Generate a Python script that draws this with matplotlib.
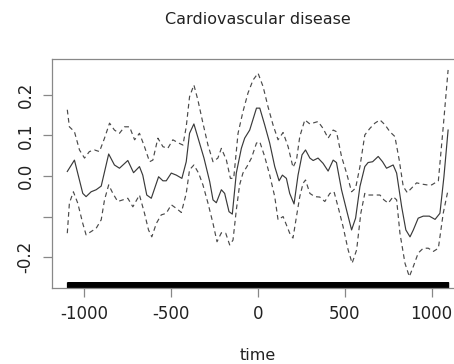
import numpy as np
import matplotlib
matplotlib.use("Agg")
import matplotlib.pyplot as plt

# smooth term s(time) for cardiovascular disease
fit_time = [-1095, -1054, -1006, -987, -958, -929, -900, -857, -824, -795, -747, -714,
            -680, -661, -638, -612, -570, -545, -526, -497, -468, -436, -411, -392,
            -367, -340, -309, -276, -257, -238, -209, -190, -165, -146, -123, -94,
            -75, -46, -7, 12, 40, 69, 98, 123, 142, 165, 184, 209, 232, 255, 275,
            300, 319, 347, 376, 405, 434, 453, 482, 511, 540, 563, 588, 616, 635,
            661, 693, 718, 741, 779, 799, 828, 852, 876, 895, 923, 952, 987, 1020,
            1048, 1071, 1095]
fit = [0.011, 0.039, -0.043, -0.051, -0.039, -0.034, -0.025, 0.054, 0.027, 0.019,
       0.038, 0.008, 0.023, 0.002, -0.047, -0.055, -0.002, -0.012, -0.012, 0.007,
       0.002, -0.006, 0.035, 0.105, 0.128, 0.089, 0.044, -0.014, -0.059, -0.066,
       -0.034, -0.043, -0.088, -0.094, 0.007, 0.068, 0.093, 0.113, 0.167, 0.167,
       0.126, 0.081, 0.023, -0.012, 0.002, -0.006, -0.043, -0.069, 0.002, 0.052,
       0.064, 0.044, 0.038, 0.044, 0.031, 0.012, 0.039, 0.033, -0.034, -0.084,
       -0.133, -0.104, -0.026, 0.023, 0.033, 0.035, 0.048, 0.035, 0.019, 0.027,
       0.007, -0.076, -0.133, -0.150, -0.133, -0.104, -0.099, -0.099, -0.107,
       -0.092, -0.002, 0.113]

upper_time = [-1095, -1083, -1054, -1025, -996, -968, -939, -910, -881, -852, -824,
              -795, -766, -737, -708, -680, -651, -622, -603, -574, -545, -517, -488,
              -459, -430, -411, -392, -367, -344, -315, -286, -257, -229, -209, -180,
              -157, -138, -113, -85, -56, -27, 2, 31, 59, 88, 117, 146, 175, 203, 223,
              242, 271, 300, 347, 376, 405, 434, 453, 482, 511, 540, 563, 588, 616,
              645, 674, 703, 732, 760, 789, 814, 837, 860, 885, 914, 943, 972, 1001,
              1039, 1067, 1095]
upper = [0.163, 0.121, 0.109, 0.064, 0.044, 0.060, 0.064, 0.060, 0.093, 0.130, 0.113,
         0.105, 0.121, 0.121, 0.089, 0.105, 0.072, 0.035, 0.039, 0.093, 0.072, 0.068,
         0.089, 0.082, 0.076, 0.121, 0.195, 0.224, 0.187, 0.130, 0.076, 0.035, 0.044,
         0.068, 0.039, -0.006, -0.006, 0.105, 0.158, 0.204, 0.236, 0.253, 0.220,
         0.171, 0.126, 0.089, 0.107, 0.072, 0.021, 0.039, 0.097, 0.138, 0.128, 0.134,
         0.117, 0.093, 0.113, 0.109, 0.048, 0.007, -0.039, -0.030, 0.023, 0.101,
         0.117, 0.130, 0.138, 0.126, 0.109, 0.097, 0.039, -0.026, -0.041, -0.030,
         -0.017, -0.020, -0.022, -0.022, -0.012, 0.121, 0.261]

lower_time = [-1095, -1083, -1060, -1035, -1006, -987, -958, -929, -900, -881, -857,
              -833, -805, -776, -747, -718, -680, -651, -628, -609, -583, -555, -526,
              -497, -468, -439, -411, -392, -367, -340, -315, -286, -257, -234, -209,
              -184, -161, -142, -123, -104, -85, -62, -36, -7, 12, 40, 69, 98, 117,
              146, 184, 203, 223, 242, 261, 275, 300, 328, 357, 386, 415, 439, 467,
              491, 520, 543, 569, 593, 616, 635, 674, 703, 726, 751, 779, 799, 818,
              847, 872, 895, 923, 952, 981, 1010, 1039, 1067, 1095]
lower = [-0.141, -0.067, -0.039, -0.067, -0.117, -0.145, -0.137, -0.129, -0.108,
         -0.059, -0.022, -0.043, -0.063, -0.059, -0.055, -0.076, -0.047, -0.092,
         -0.133, -0.150, -0.117, -0.096, -0.092, -0.071, -0.080, -0.090, -0.043,
         0.015, 0.027, 0.007, -0.022, -0.067, -0.117, -0.162, -0.140, -0.141, -0.170,
         -0.158, -0.084, -0.022, 0.007, 0.023, 0.044, 0.081, 0.084, 0.048, 0.002,
         -0.051, -0.108, -0.100, -0.141, -0.153, -0.100, -0.051, -0.018, -0.010,
         -0.043, -0.051, -0.052, -0.063, -0.043, -0.039, -0.084, -0.125, -0.182,
         -0.215, -0.182, -0.092, -0.043, -0.047, -0.047, -0.047, -0.059, -0.067,
         -0.051, -0.059, -0.141, -0.215, -0.248, -0.223, -0.190, -0.178, -0.178,
         -0.186, -0.178, -0.092, -0.034]

# daily observations (rug)
obs_time = np.arange(-1095, 1096)

x_ticks = [-1000, -500, 0, 500, 1000]
y_ticks = [-0.2, -0.1, 0.0, 0.1, 0.2]
y_labels = ["-0.2", "", "0.0", "0.1", "0.2"]

plt.rcParams["font.family"] = ["DejaVu Sans"]

fig = plt.figure(figsize=(4.54, 3.64), dpi=100)
ax = fig.add_axes([52 / 454, 76 / 364, 411.4 / 454, 229 / 364])

ax.plot(fit_time, fit, color="#3a3a3a", lw=0.85)
ax.plot(upper_time, upper, color="#4a4a4a", lw=0.85, ls=(0, (4, 3)))
ax.plot(lower_time, lower, color="#4a4a4a", lw=0.85, ls=(0, (4, 3)))
ax.vlines(obs_time, 0, 0.028, transform=ax.get_xaxis_transform(),
          color="black", lw=0.8)

ax.set_xlim(-1183, 1183)
ax.set_ylim(-0.276, 0.288)
ax.set_xticks(x_ticks)
ax.set_xticklabels([str(t) for t in x_ticks])
ax.set_yticks(y_ticks)
ax.set_yticklabels(y_labels, rotation=90, va="center")

for s in ax.spines.values():
    s.set_color("#888888")
    s.set_linewidth(0.9)
ax.tick_params(length=6.5, width=0.9, color="#888888", labelsize=12,
               labelcolor="#222222", pad=6)
ax.set_xlabel("time", fontsize=11.5, color="#222222", labelpad=18)
ax.set_title("Cardiovascular disease", fontsize=11.5, color="#222222", pad=25)

fig.savefig("out.png", dpi=100)
